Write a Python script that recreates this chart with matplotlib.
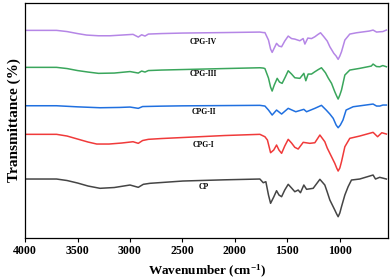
import matplotlib
matplotlib.use("Agg")
import matplotlib.pyplot as plt

# Wavenumber (cm-1) and transmittance (arbitrary units, stacked)
wn_cpg4 = [4000, 3700, 3600, 3500, 3413, 3300, 3190, 3080, 2971, 2921, 2889, 2857, 2825, 2700, 2500,
           2100, 1762, 1730, 1714, 1680, 1660, 1645, 1625, 1603, 1580, 1555, 1525, 1492, 1460,
           1430, 1381, 1350, 1333, 1305, 1270, 1238, 1210, 1184, 1152, 1120, 1095, 1057, 1035,
           1016, 1000, 984, 952, 905, 841, 720, 683, 650, 619, 590, 556]
t_cpg4 = [209.7, 209.7, 208.5, 206.5, 205, 204.3, 204.3, 205, 205.7, 203, 205.3, 204, 206, 206.5, 207,
          207.5, 208, 207.5, 207.5, 200, 191, 187.7, 192, 196.7, 194, 193.3, 199, 204, 201.5,
          201, 199.3, 201.5, 196, 202, 201.5, 203.3, 205.5, 207.3, 203.3, 199, 193.3, 186.7, 184,
          180.7, 184, 188.3, 200, 206, 207.3, 209, 210, 208, 208.3, 208.5, 210]

wn_cpg3 = [4000, 3700, 3600, 3500, 3400, 3300, 3150, 3000, 2921, 2889, 2857, 2825, 2700, 2500, 2100,
           1762, 1730, 1714, 1680, 1660, 1645, 1625, 1597, 1575, 1550, 1520, 1492, 1460, 1429, 1381,
           1343, 1324, 1302, 1270, 1238, 1205, 1175, 1137, 1110, 1079, 1048, 1030, 1016, 1000, 984,
           952, 905, 810, 700, 683, 650, 619, 590, 556]
t_cpg3 = [172.7, 172.7, 171.5, 169.5, 168, 166.7, 167, 168.5, 167, 169, 168, 169.5, 170, 170.5, 171.5,
          172.3, 172, 171.5, 162, 153, 149, 155, 161.7, 158, 156.7, 163, 169.3, 166, 162.3, 161.7,
          166.7, 159.3, 166, 166, 168.3, 170.5, 172.3, 167.3, 162, 156.7, 148.3, 144, 141, 145, 150,
          165, 170, 171.7, 174, 176, 173.5, 173.3, 174.5, 173.3]

wn_cpg2 = [4000, 3700, 3500, 3285, 3100, 3000, 2921, 2880, 2700, 2500, 1762, 1714, 1680, 1645, 1603,
           1555, 1492, 1420, 1343, 1317, 1238, 1175, 1130, 1095, 1063, 1035, 1016, 995, 970, 940,
           873, 683, 650, 619, 590, 556]
t_cpg2 = [134.3, 134.3, 133.2, 132.3, 132.6, 133, 131.7, 133.5, 133.9, 134.2, 134.7, 134, 130, 125, 130,
          126, 131.7, 128.3, 130.7, 128.3, 131.7, 134.7, 130, 126, 121.7, 115, 112.3, 115, 120, 130,
          133.3, 136, 134, 134, 135, 135]

wn_cpg1 = [4000, 3700, 3600, 3500, 3400, 3317, 3200, 3080, 2971, 2921, 2880, 2825, 2700, 2500, 2300,
           2100, 1762, 1714, 1690, 1660, 1630, 1603, 1580, 1555, 1525, 1492, 1460, 1429, 1397, 1349,
           1286, 1238, 1190, 1143, 1120, 1095, 1048, 1030, 1016, 1000, 984, 952, 905, 810, 683, 640,
           600, 556]
t_cpg1 = [105.7, 105.7, 104, 101, 98, 96, 96, 97, 98.3, 96.7, 99.5, 100.7, 101.5, 102.5, 103.5,
          104.5, 105.7, 103.3, 100, 87.3, 90, 95, 90, 86.7, 94, 100.7, 97, 92.7, 91, 97.7,
          96.7, 97.3, 105, 98.3, 92, 86.7, 76.7, 72, 69, 72, 78.3, 93.3, 101.7, 104, 107.7, 103.3,
          107.3, 106]

wn_cp = [4000, 3700, 3600, 3500, 3400, 3286, 3150, 3000, 2921, 2873, 2810, 2700, 2495, 2100, 1762,
         1730, 1705, 1680, 1660, 1630, 1603, 1580, 1555, 1525, 1492, 1460, 1429, 1397, 1375, 1343,
         1317, 1254, 1190, 1143, 1120, 1095, 1048, 1030, 1016, 1000, 984, 952, 921, 889, 810, 683,
         660, 620, 556]
t_cp = [61, 61, 59.5, 57, 54, 51.7, 52.5, 55, 52.7, 55.7, 56.7, 57.5, 59, 60.2, 61,
        57.3, 58.3, 45, 36.7, 43, 49.3, 45, 43.3, 50, 55.7, 52, 48.3, 50, 47.3, 55,
        50.7, 51.7, 60.7, 55, 48, 40, 30, 26, 23.3, 27, 33.3, 45, 53.3, 60, 61, 65,
        61, 62.7, 61]

labels = ["CPG-IV", "CPG-III", "CPG-II", "CPG-I", "CP"]
label_y = [198, 166, 128, 95, 53]
colors = ["#b586e6", "#3aa65c", "#2070e0", "#f03a3a", "#454545"]
series = [(wn_cpg4, t_cpg4), (wn_cpg3, t_cpg3), (wn_cpg2, t_cpg2), (wn_cpg1, t_cpg1), (wn_cp, t_cp)]
xticks = [4000, 3500, 3000, 2500, 2000, 1500, 1000]

plt.rcParams['font.family'] = ['Liberation Serif', 'DejaVu Serif']
plt.rcParams['mathtext.fontset'] = 'custom'
plt.rcParams['mathtext.rm'] = 'Liberation Serif:bold'
plt.rcParams['mathtext.bf'] = 'Liberation Serif:bold'
plt.rcParams['mathtext.it'] = 'Liberation Serif:bold'

fig = plt.figure(figsize=(3.92, 2.80), dpi=100)
ax = fig.add_axes([0.064, 0.15, 0.926, 0.839])

for (wn, t), c, lab, ly in zip(series, colors, labels, label_y):
    ax.plot(wn, t, color=c, lw=1.1)
    ax.text(2300, ly, lab, ha='center', va='center', fontsize=5.5, fontweight='bold')

ax.set_xlim(4000, 540)
ax.set_ylim(2, 237)
ax.set_xticks(xticks)
ax.set_xticklabels([str(v) for v in xticks], fontsize=8.5, fontweight='bold')
ax.set_yticks([])
ax.tick_params(axis='x', direction='out', length=3, width=0.8, pad=2)
for s in ax.spines.values():
    s.set_linewidth(0.9)
ax.set_xlabel("Wavenumber (cm$^{\\mathbf{-1}}$)", fontsize=9.5, fontweight='bold', labelpad=4)
ax.set_ylabel("Transmittance (%)", fontsize=11, fontweight='bold', labelpad=3)

fig.savefig("out.png", dpi=100)
